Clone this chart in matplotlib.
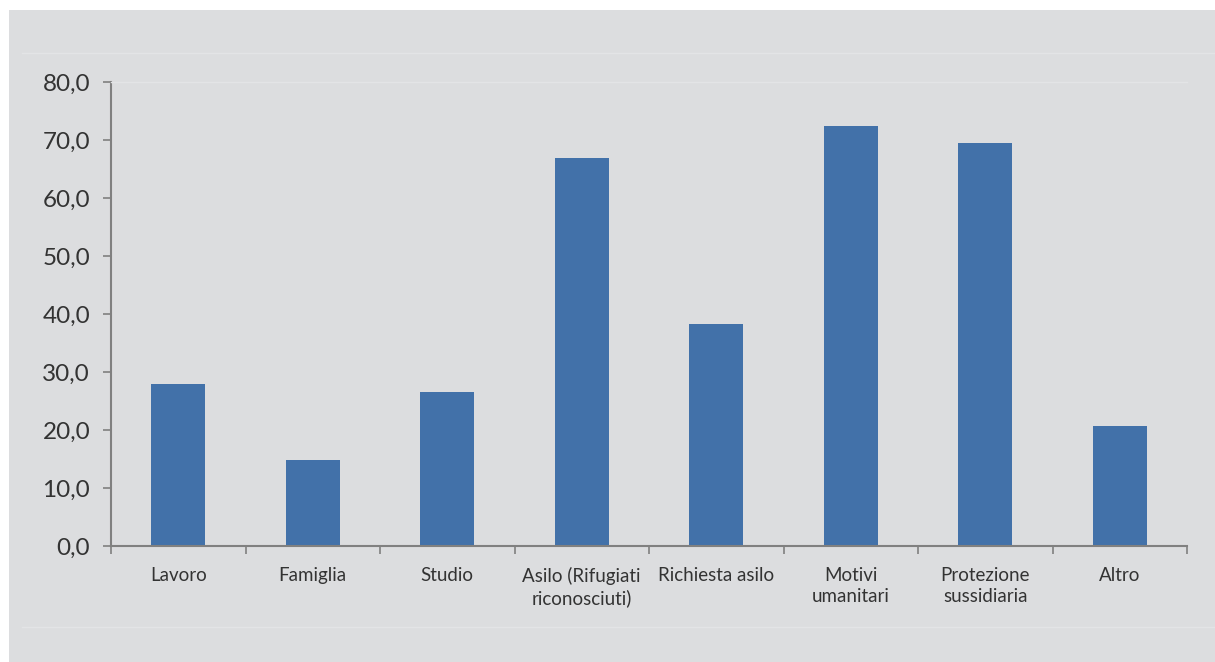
import matplotlib.pyplot as plt
from matplotlib.lines import Line2D
from matplotlib.patches import Rectangle
from matplotlib.ticker import FuncFormatter, FixedLocator, NullFormatter

motivi = ["Lavoro", "Famiglia", "Studio", "Asilo (Rifugiati\nriconosciuti)",
          "Richiesta asilo", "Motivi\numanitari", "Protezione\nsussidiaria", "Altro"]
valori = [27.9, 14.8, 26.6, 66.9, 38.3, 72.4, 69.5, 20.7]

sfondo = "#dcdddf"
blu = "#4271a9"
testo = "#333333"

plt.rcParams["font.family"] = ["Lato", "DejaVu Sans"]

fig = plt.figure(figsize=(12.15, 6.62), dpi=100, facecolor="white")
# pannello grigio
fig.add_artist(Rectangle((9 / 1215, 0), 1 - 9 / 1215, 1 - 10 / 662,
                         transform=fig.transFigure, facecolor=sfondo,
                         edgecolor="none", zorder=0))
for yy in (53, 627):
    fig.add_artist(Line2D([22 / 1215, 1], [1 - yy / 662] * 2,
                          transform=fig.transFigure, color="#e3e4e6", lw=1))

ax = fig.add_axes([111 / 1215, 1 - 546 / 662, (1187 - 111) / 1215, (546 - 82) / 662])
ax.set_facecolor(sfondo)
ax.patch.set_alpha(0)

x = range(len(motivi))
ax.bar(x, valori, width=0.4, color=blu, zorder=2)

ax.set_xlim(-0.5, len(motivi) - 0.5)
ax.set_ylim(0, 80)
ax.set_yticks(range(0, 81, 10))
ax.yaxis.set_major_formatter(FuncFormatter(lambda v, p: f"{v:.1f}".replace(".", ",")))
ax.tick_params(axis="y", labelsize=17.5, colors="#808080", labelcolor=testo,
               length=6, width=1.2, pad=9)

ax.xaxis.set_major_locator(FixedLocator([i - 0.5 for i in range(len(motivi) + 1)]))
ax.xaxis.set_major_formatter(NullFormatter())
ax.xaxis.set_minor_locator(FixedLocator(list(x)))
ax.set_xticklabels(motivi, minor=True, linespacing=1.3)
ax.tick_params(axis="x", which="major", length=6, width=1.2, colors="#808080")
ax.tick_params(axis="x", which="minor", length=0, labelsize=13.5, labelcolor=testo, pad=15)

for s in ("left", "bottom"):
    ax.spines[s].set_color("#808080")
    ax.spines[s].set_linewidth(1.5)
ax.spines["right"].set_visible(False)
ax.spines["top"].set_color("#e3e4e6")
ax.spines["top"].set_linewidth(1)

plt.savefig("out.png", dpi=100, facecolor="white")
